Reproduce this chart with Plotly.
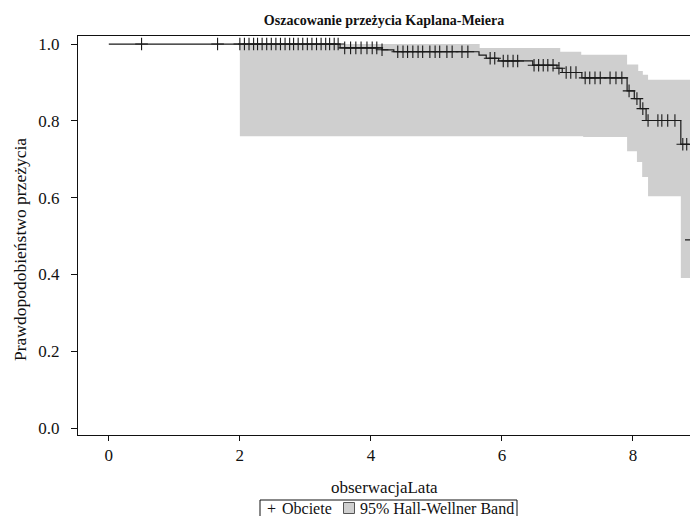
import plotly.graph_objects as go

# ---- data ----
# Kaplan-Meier step curve: event times and survival after each step
km_times = [0.0, 3.53, 4.17, 4.35, 5.65, 5.76, 5.95, 6.47, 6.84, 6.92, 7.22, 7.91, 8.02, 8.11, 8.20, 8.73, 8.88]
km_surv = [1.0, 0.990, 0.985, 0.980, 0.971, 0.963, 0.956, 0.945, 0.937, 0.926, 0.912, 0.878, 0.858, 0.832, 0.801, 0.739, 0.49]

# censored observations (times)
censor_times = [0.50, 1.66,
                2.00, 2.07, 2.14, 2.21, 2.27, 2.34, 2.41, 2.48, 2.55, 2.62, 2.69, 2.76,
                2.82, 2.89, 2.96, 3.03, 3.10, 3.17, 3.24, 3.31, 3.37, 3.44, 3.50,
                3.60, 3.69, 3.77, 3.85, 3.94, 4.02, 4.09, 4.17,
                4.41, 4.49, 4.56, 4.64, 4.72, 4.79, 4.90, 4.98, 5.05, 5.16, 5.24, 5.39, 5.48,
                5.82, 5.89, 6.02, 6.09, 6.17, 6.24,
                6.49, 6.56, 6.63, 6.70, 6.78, 6.87,
                6.98, 7.05, 7.13,
                7.27, 7.34, 7.42, 7.50, 7.65, 7.74, 7.83,
                7.94, 8.06, 8.15,
                8.23, 8.38, 8.44, 8.53, 8.64,
                8.76, 8.82, 8.89]

# Hall-Wellner band (step functions): start times and values
band_upper_t = [2.00, 5.66, 6.89, 7.21, 7.91, 8.08, 8.15, 8.23]
band_upper_v = [1.000, 0.990, 0.980, 0.972, 0.947, 0.930, 0.920, 0.907]
band_lower_t = [2.00, 7.24, 7.91, 8.06, 8.14, 8.23, 8.73]
band_lower_v = [0.760, 0.758, 0.721, 0.693, 0.654, 0.604, 0.391]
band_end = 8.95
curve_end = 8.95

x_ticks = [0, 2, 4, 6, 8]
y_ticks = [0.0, 0.2, 0.4, 0.6, 0.8, 1.0]

legend_labels = ["Obciete", "95% Hall-Wellner Band"]


def surv_at(t):
    s = km_surv[0]
    for tt, ss in zip(km_times, km_surv):
        if tt <= t:
            s = ss
    return s


def steps(ts, vs, end):
    xs, ys = [], []
    for i, (t, v) in enumerate(zip(ts, vs)):
        t2 = ts[i + 1] if i + 1 < len(ts) else end
        xs += [t, t2]
        ys += [v, v]
    return xs, ys


ux, uy = steps(band_upper_t, band_upper_v, band_end)
lx, ly = steps(band_lower_t, band_lower_v, band_end)
band_x = ux + lx[::-1]
band_y = uy + ly[::-1]

band_col = "#cfcfcf"
ink = "#111111"
font_fam = "Liberation Serif, Times New Roman, serif"

W, H = 690, 516
L, R, T, B = 78, 0, 36, 81
pw, ph = W - L - R, H - T - B


def px(xp):  # pixel x -> paper x
    return (xp - L) / pw


def py(yp):  # pixel y -> paper y
    return (H - B - yp) / ph


fig = go.Figure()
fig.add_trace(go.Scatter(
    x=band_x, y=band_y, mode="lines", fill="toself",
    fillcolor=band_col, line=dict(color=band_col, width=0),
    name=legend_labels[1], showlegend=False, hoverinfo="skip"))
fig.add_trace(go.Scatter(
    x=km_times + [curve_end], y=km_surv + [km_surv[-1]],
    mode="lines", line=dict(color="#1a1a1a", width=1.2, shape="hv"),
    showlegend=False, hoverinfo="skip"))
fig.add_trace(go.Scatter(
    x=censor_times, y=[surv_at(t) for t in censor_times],
    mode="markers", cliponaxis=True,
    marker=dict(symbol="cross-thin", size=9, line=dict(color="#1a1a1a", width=1.1)),
    name=legend_labels[0], showlegend=False))

# legend box (bottom, partly cut by the page edge as in the reference)
leg_y = 508
shapes = [
    dict(type="rect", xref="paper", yref="paper", x0=px(260), x1=px(517), y0=py(500), y1=py(530),
         line=dict(color=ink, width=1), fillcolor="rgba(0,0,0,0)", layer="above"),
    dict(type="rect", xref="paper", yref="paper", x0=px(343.5), x1=px(354.5), y0=py(leg_y - 5.5), y1=py(leg_y + 5.5),
         line=dict(color="#555555", width=1), fillcolor=band_col, layer="above"),
]
legend_ann = [
    dict(text="+", xref="paper", yref="paper", x=px(271), y=py(leg_y), xanchor="center", yanchor="middle",
         showarrow=False, font=dict(family=font_fam, size=16, color=ink)),
    dict(text=legend_labels[0], xref="paper", yref="paper", x=px(280), y=py(leg_y), xanchor="left", yanchor="middle",
         showarrow=False, font=dict(family=font_fam, size=16, color=ink)),
    dict(text=legend_labels[1], xref="paper", yref="paper", x=px(358), y=py(leg_y), xanchor="left", yanchor="middle",
         showarrow=False, font=dict(family=font_fam, size=16, color=ink)),
]

fig.update_layout(
    width=W, height=H,
    margin=dict(l=L, r=R, t=T, b=B, autoexpand=False),
    paper_bgcolor="white", plot_bgcolor="white",
    font=dict(family=font_fam, size=15, color=ink),
    title=dict(text="<b>Oszacowanie przeżycia Kaplana-Meiera</b>",
               x=0.5, xref="paper", xanchor="center",
               y=1 - 20 / H, yref="container", yanchor="middle",
               font=dict(family=font_fam, size=14, color=ink)),
    showlegend=False,
    shapes=shapes,
    annotations=[
        dict(text="obserwacjaLata", xref="paper", yref="paper",
             x=0.5, y=py(487), xanchor="center", yanchor="middle",
             showarrow=False, font=dict(family=font_fam, size=17, color=ink)),
        dict(text="Prawdopodobieństwo przeżycia", xref="paper", yref="paper",
             x=px(20), y=py(250), xanchor="center", yanchor="middle",
             textangle=-90, showarrow=False, font=dict(family=font_fam, size=17.5, color=ink)),
    ] + legend_ann,
)
fig.update_xaxes(
    range=[-0.47, 8.87], tickvals=x_ticks, automargin=False,
    showline=True, linecolor=ink, linewidth=1, mirror=True,
    ticks="outside", ticklen=5, tickcolor=ink, ticklabelstandoff=0,
    showgrid=False, zeroline=False,
    tickfont=dict(family=font_fam, size=17))
fig.update_yaxes(
    range=[-0.018, 1.021], tickvals=y_ticks, tickformat=".1f", automargin=False,
    showline=True, linecolor=ink, linewidth=1, mirror=False,
    ticks="outside", ticklen=6, tickcolor=ink, ticklabelstandoff=8,
    showgrid=False, zeroline=False,
    tickfont=dict(family=font_fam, size=17))

fig.write_html(
    "out.html",
    config={"displayModeBar": False},
    post_script="document.body.style.margin='0';document.body.style.overflow='hidden';",
)
